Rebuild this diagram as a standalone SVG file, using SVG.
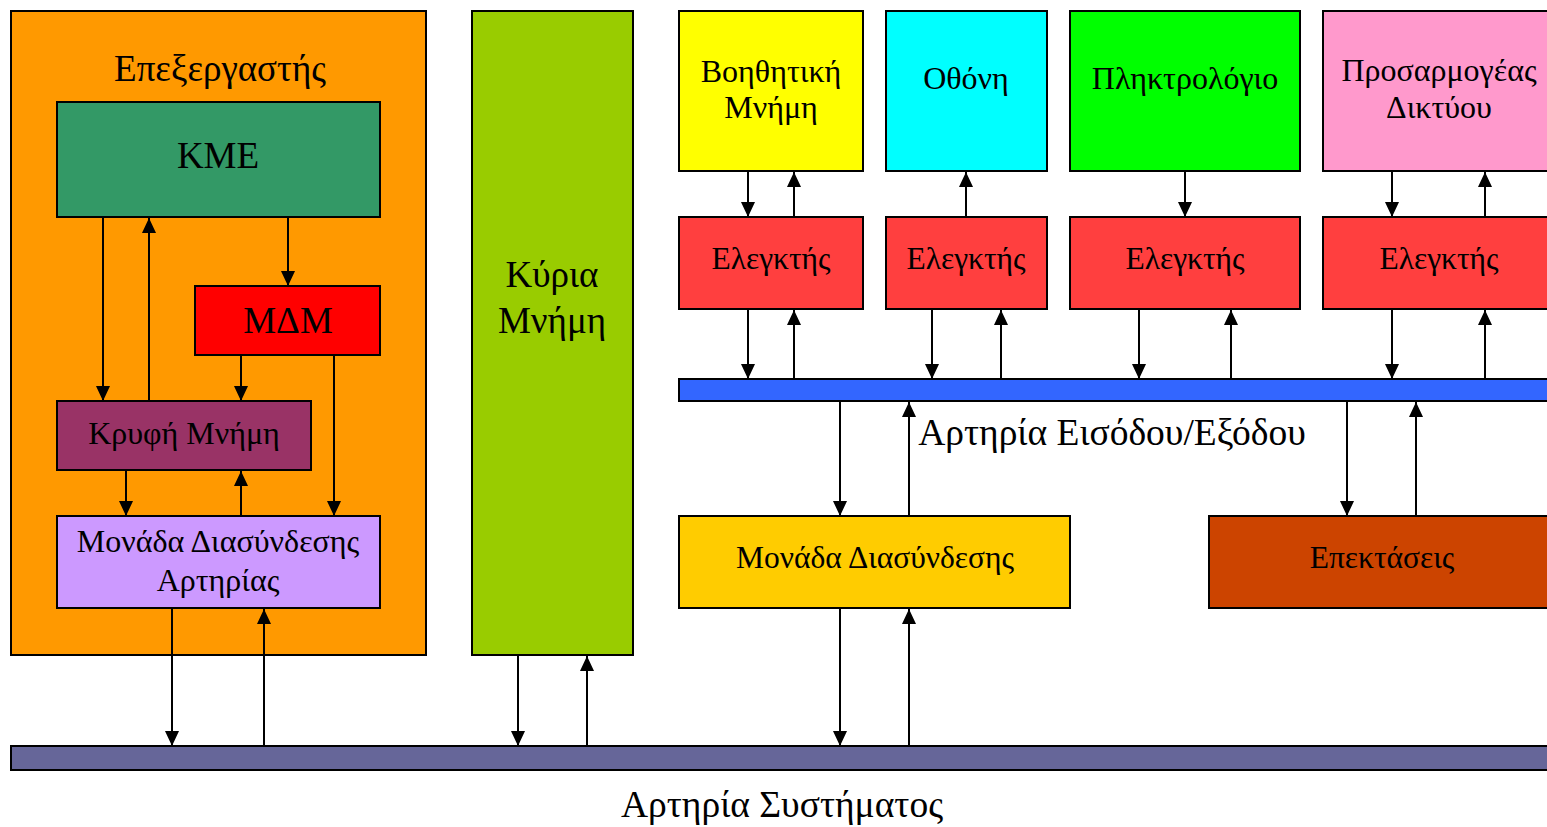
<svg xmlns="http://www.w3.org/2000/svg" width="1547" height="827" viewBox="0 0 1547 827">
<defs>
<marker id="ah" markerUnits="userSpaceOnUse" markerWidth="15" markerHeight="14" refX="15" refY="7" orient="auto">
<path d="M0,0 L15,7 L0,14 z" fill="#000"/>
</marker>
<style>
.box{stroke:#000;stroke-width:2}
.t{font-family:"Liberation Serif","Times New Roman",serif;fill:#000;text-anchor:middle}
.c{stroke:#000;stroke-width:2;fill:none;marker-end:url(#ah)}
</style>
</defs>
<rect width="1547" height="827" fill="#fff"/>
<g id="processor">
<rect class="box" x="11" y="11" width="415" height="644" fill="#FF9900"/>
<text class="t" x="220" y="81" font-size="37">Επεξεργαστής</text>
</g>
<g id="kme">
<rect class="box" x="57" y="102" width="323" height="115" fill="#339966"/>
<text class="t" x="218" y="168" font-size="37">ΚΜΕ</text>
</g>
<g id="mdm">
<rect class="box" x="195" y="286" width="185" height="69" fill="#FF0000"/>
<text class="t" x="288" y="333" font-size="37">ΜΔΜ</text>
</g>
<g id="cache">
<rect class="box" x="57" y="401" width="254" height="69" fill="#993366"/>
<text class="t" x="184" y="444" font-size="32">Κρυφή Μνήμη</text>
</g>
<g id="biu">
<rect class="box" x="57" y="516" width="323" height="92" fill="#CC99FF"/>
<text class="t" x="218" y="552" font-size="32">Μονάδα Διασύνδεσης</text>
<text class="t" x="218" y="591" font-size="32">Αρτηρίας</text>
</g>
<g id="mainmem">
<rect class="box" x="472" y="11" width="161" height="644" fill="#99CC00"/>
<text class="t" x="552" y="287" font-size="37">Κύρια</text>
<text class="t" x="552" y="333" font-size="37">Μνήμη</text>
</g>
<g id="auxmem">
<rect class="box" x="679" y="11" width="184" height="160" fill="#FFFF00"/>
<text class="t" x="771" y="82" font-size="32">Βοηθητική</text>
<text class="t" x="771" y="118" font-size="32">Μνήμη</text>
</g>
<g id="screen">
<rect class="box" x="886" y="11" width="161" height="160" fill="#00FFFF"/>
<text class="t" x="966" y="89" font-size="32">Οθόνη</text>
</g>
<g id="keyboard">
<rect class="box" x="1070" y="11" width="230" height="160" fill="#00FF00"/>
<text class="t" x="1185" y="89" font-size="32">Πληκτρολόγιο</text>
</g>
<g id="netadapter">
<rect class="box" x="1323" y="11" width="230" height="160" fill="#FF99CC"/>
<text class="t" x="1439" y="81" font-size="32">Προσαρμογέας</text>
<text class="t" x="1439" y="118" font-size="32">Δικτύου</text>
</g>
<g id="ctrl1">
<rect class="box" x="679" y="217" width="184" height="92" fill="#FF3F3F"/>
<text class="t" x="771" y="269" font-size="31.5">Ελεγκτής</text>
</g>
<g id="ctrl2">
<rect class="box" x="886" y="217" width="161" height="92" fill="#FF3F3F"/>
<text class="t" x="966" y="269" font-size="31.5">Ελεγκτής</text>
</g>
<g id="ctrl3">
<rect class="box" x="1070" y="217" width="230" height="92" fill="#FF3F3F"/>
<text class="t" x="1185" y="269" font-size="31.5">Ελεγκτής</text>
</g>
<g id="ctrl4">
<rect class="box" x="1323" y="217" width="230" height="92" fill="#FF3F3F"/>
<text class="t" x="1439" y="269" font-size="31.5">Ελεγκτής</text>
</g>
<g id="iobus">
<rect class="box" x="679" y="379" width="874" height="22" fill="#3366FF"/>
<text class="t" x="1112" y="445" font-size="37.5">Αρτηρία Εισόδου/Εξόδου</text>
</g>
<g id="iobiu">
<rect class="box" x="679" y="516" width="391" height="92" fill="#FFCC00"/>
<text class="t" x="875" y="568" font-size="31.5">Μονάδα Διασύνδεσης</text>
</g>
<g id="expansions">
<rect class="box" x="1209" y="516" width="344" height="92" fill="#CC4400"/>
<text class="t" x="1382" y="568" font-size="31.5">Επεκτάσεις</text>
</g>
<g id="sysbus">
<rect class="box" x="11" y="746" width="1542" height="24" fill="#666699"/>
<text class="t" x="782" y="817" font-size="37.5">Αρτηρία Συστήματος</text>
</g>
<g id="connectors">
<line class="c" x1="103" y1="218" x2="103" y2="401"/>
<line class="c" x1="149" y1="401" x2="149" y2="218"/>
<line class="c" x1="288" y1="218" x2="288" y2="286"/>
<line class="c" x1="241" y1="356" x2="241" y2="401"/>
<line class="c" x1="334" y1="356" x2="334" y2="516"/>
<line class="c" x1="126" y1="471" x2="126" y2="516"/>
<line class="c" x1="241" y1="516" x2="241" y2="471"/>
<line class="c" x1="172" y1="609" x2="172" y2="746"/>
<line class="c" x1="264" y1="746" x2="264" y2="609"/>
<line class="c" x1="518" y1="656" x2="518" y2="746"/>
<line class="c" x1="587" y1="746" x2="587" y2="656"/>
<line class="c" x1="748" y1="172" x2="748" y2="217"/>
<line class="c" x1="794" y1="217" x2="794" y2="172"/>
<line class="c" x1="966" y1="217" x2="966" y2="172"/>
<line class="c" x1="1185" y1="172" x2="1185" y2="217"/>
<line class="c" x1="1392" y1="172" x2="1392" y2="217"/>
<line class="c" x1="1485" y1="217" x2="1485" y2="172"/>
<line class="c" x1="748" y1="310" x2="748" y2="379"/>
<line class="c" x1="794" y1="379" x2="794" y2="310"/>
<line class="c" x1="932" y1="310" x2="932" y2="379"/>
<line class="c" x1="1001" y1="379" x2="1001" y2="310"/>
<line class="c" x1="1139" y1="310" x2="1139" y2="379"/>
<line class="c" x1="1231" y1="379" x2="1231" y2="310"/>
<line class="c" x1="1392" y1="310" x2="1392" y2="379"/>
<line class="c" x1="1485" y1="379" x2="1485" y2="310"/>
<line class="c" x1="840" y1="402" x2="840" y2="516"/>
<line class="c" x1="909" y1="516" x2="909" y2="402"/>
<line class="c" x1="1347" y1="402" x2="1347" y2="516"/>
<line class="c" x1="1416" y1="516" x2="1416" y2="402"/>
<line class="c" x1="840" y1="609" x2="840" y2="746"/>
<line class="c" x1="909" y1="746" x2="909" y2="609"/>
</g>
</svg>
